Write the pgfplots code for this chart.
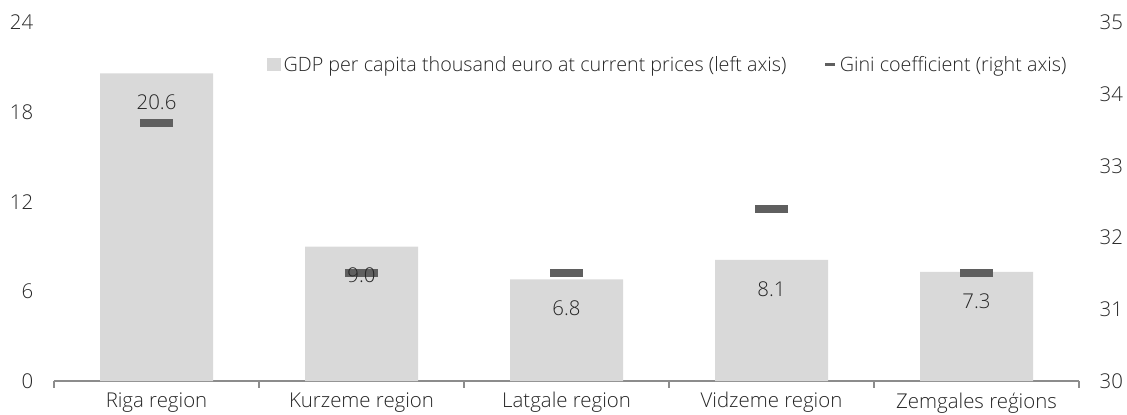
\documentclass[border=0pt]{standalone}
\usepackage{pgfplots}
\pgfplotsset{compat=1.18}
\usepackage{fontspec}
\setmainfont{Open Sans Light}
\definecolor{bargray}{HTML}{D9D9D9}
\definecolor{ginigray}{HTML}{5F5F5F}
\definecolor{txt}{HTML}{262626}
\definecolor{axgray}{HTML}{8C8C8C}
\begin{document}
\begin{tikzpicture}
\useasboundingbox (0,0) rectangle (845.25pt,310.5pt);
\pgfplotsset{
  common/.style={
    at={(40.5pt,24.75pt)}, anchor=south west,
    scale only axis, width=768.75pt, height=268.9pt,
    xmin=0.5, xmax=5.5,
    /pgf/number format/assume math mode=true,
    tick label style={font=\fontsize{15.3}{17}\selectfont, text=txt},
  }
}
\begin{axis}[
  common,
  ymin=0, ymax=24,
  ytick={0,6,12,18,24},
  axis x line*=bottom, axis y line*=left,
  y axis line style={draw=none},
  x axis line style={axgray, line width=1.5pt, -},
  ytick style={draw=none},
  yticklabel style={anchor=east, xshift=-7pt},
  xtick={0.5,1.5,2.5,3.5,4.5,5.5},
  xticklabels={},
  xtick style={draw=axgray, line width=1.1pt},
  major tick length=5pt, tick align=outside,
  extra x ticks={1,2,3,4,5},
  extra x tick labels={Riga region, Kurzeme region, Latgale region, Vidzeme region, Zemgales reģions},
  extra x tick style={major tick length=0pt, tick style={draw=none}},
  xticklabel style={yshift=-5pt},
  ybar, bar width=84.75pt,
  legend columns=2,
  legend style={at={(0.599,0.882)}, anchor=center, draw=none, fill=none,
    font=\fontsize{14.8}{17}\selectfont, text=txt,
    /tikz/every even column/.append style={column sep=26pt},
    /tikz/every odd column/.append style={column sep=0pt}},
  legend cell align=left,
]
\addplot[fill=bargray, draw=none,
  legend image code/.code={\fill[bargray] (0pt,-4.9pt) rectangle (10.5pt,4.9pt);}]
  coordinates {(1,20.6) (2,9.0) (3,6.8) (4,8.1) (5,7.3)};
\addlegendentry{GDP per capita thousand euro at current prices (left axis)}
\addlegendimage{legend image code/.code={\draw[ginigray, line width=2.5pt] (0pt,0pt) -- (7.5pt,0pt);}}
\addlegendentry{Gini coefficient (right axis)}
\end{axis}
\begin{axis}[
  common,
  ymin=30, ymax=35,
  ytick={30,31,32,33,34,35},
  axis y line*=right, axis x line=none,
  y axis line style={draw=none},
  ytick style={draw=none},
  yticklabel style={anchor=west, xshift=12pt},
]
\addplot[only marks, mark=-, mark size=12.4pt, mark options={line width=6pt, ginigray}]
  coordinates {(1,33.6) (2,31.5) (3,31.5) (4,32.4) (5,31.5)};
\end{axis}
\begin{axis}[
  common,
  ymin=0, ymax=24,
  axis lines=none,
  ybar, bar width=84.75pt,
  nodes near coords={\pgfmathprintnumber[fixed,fixed zerofill,precision=1]{\pgfplotspointmeta}},
  every node near coord/.append style={anchor=center, yshift=-21.75pt, font=\fontsize{15.3}{17}\selectfont, text=txt},
]
\addplot[draw=none, fill=none]
  coordinates {(1,20.6) (2,9.0) (3,6.8) (4,8.1) (5,7.3)};
\end{axis}
\end{tikzpicture}
\end{document}
